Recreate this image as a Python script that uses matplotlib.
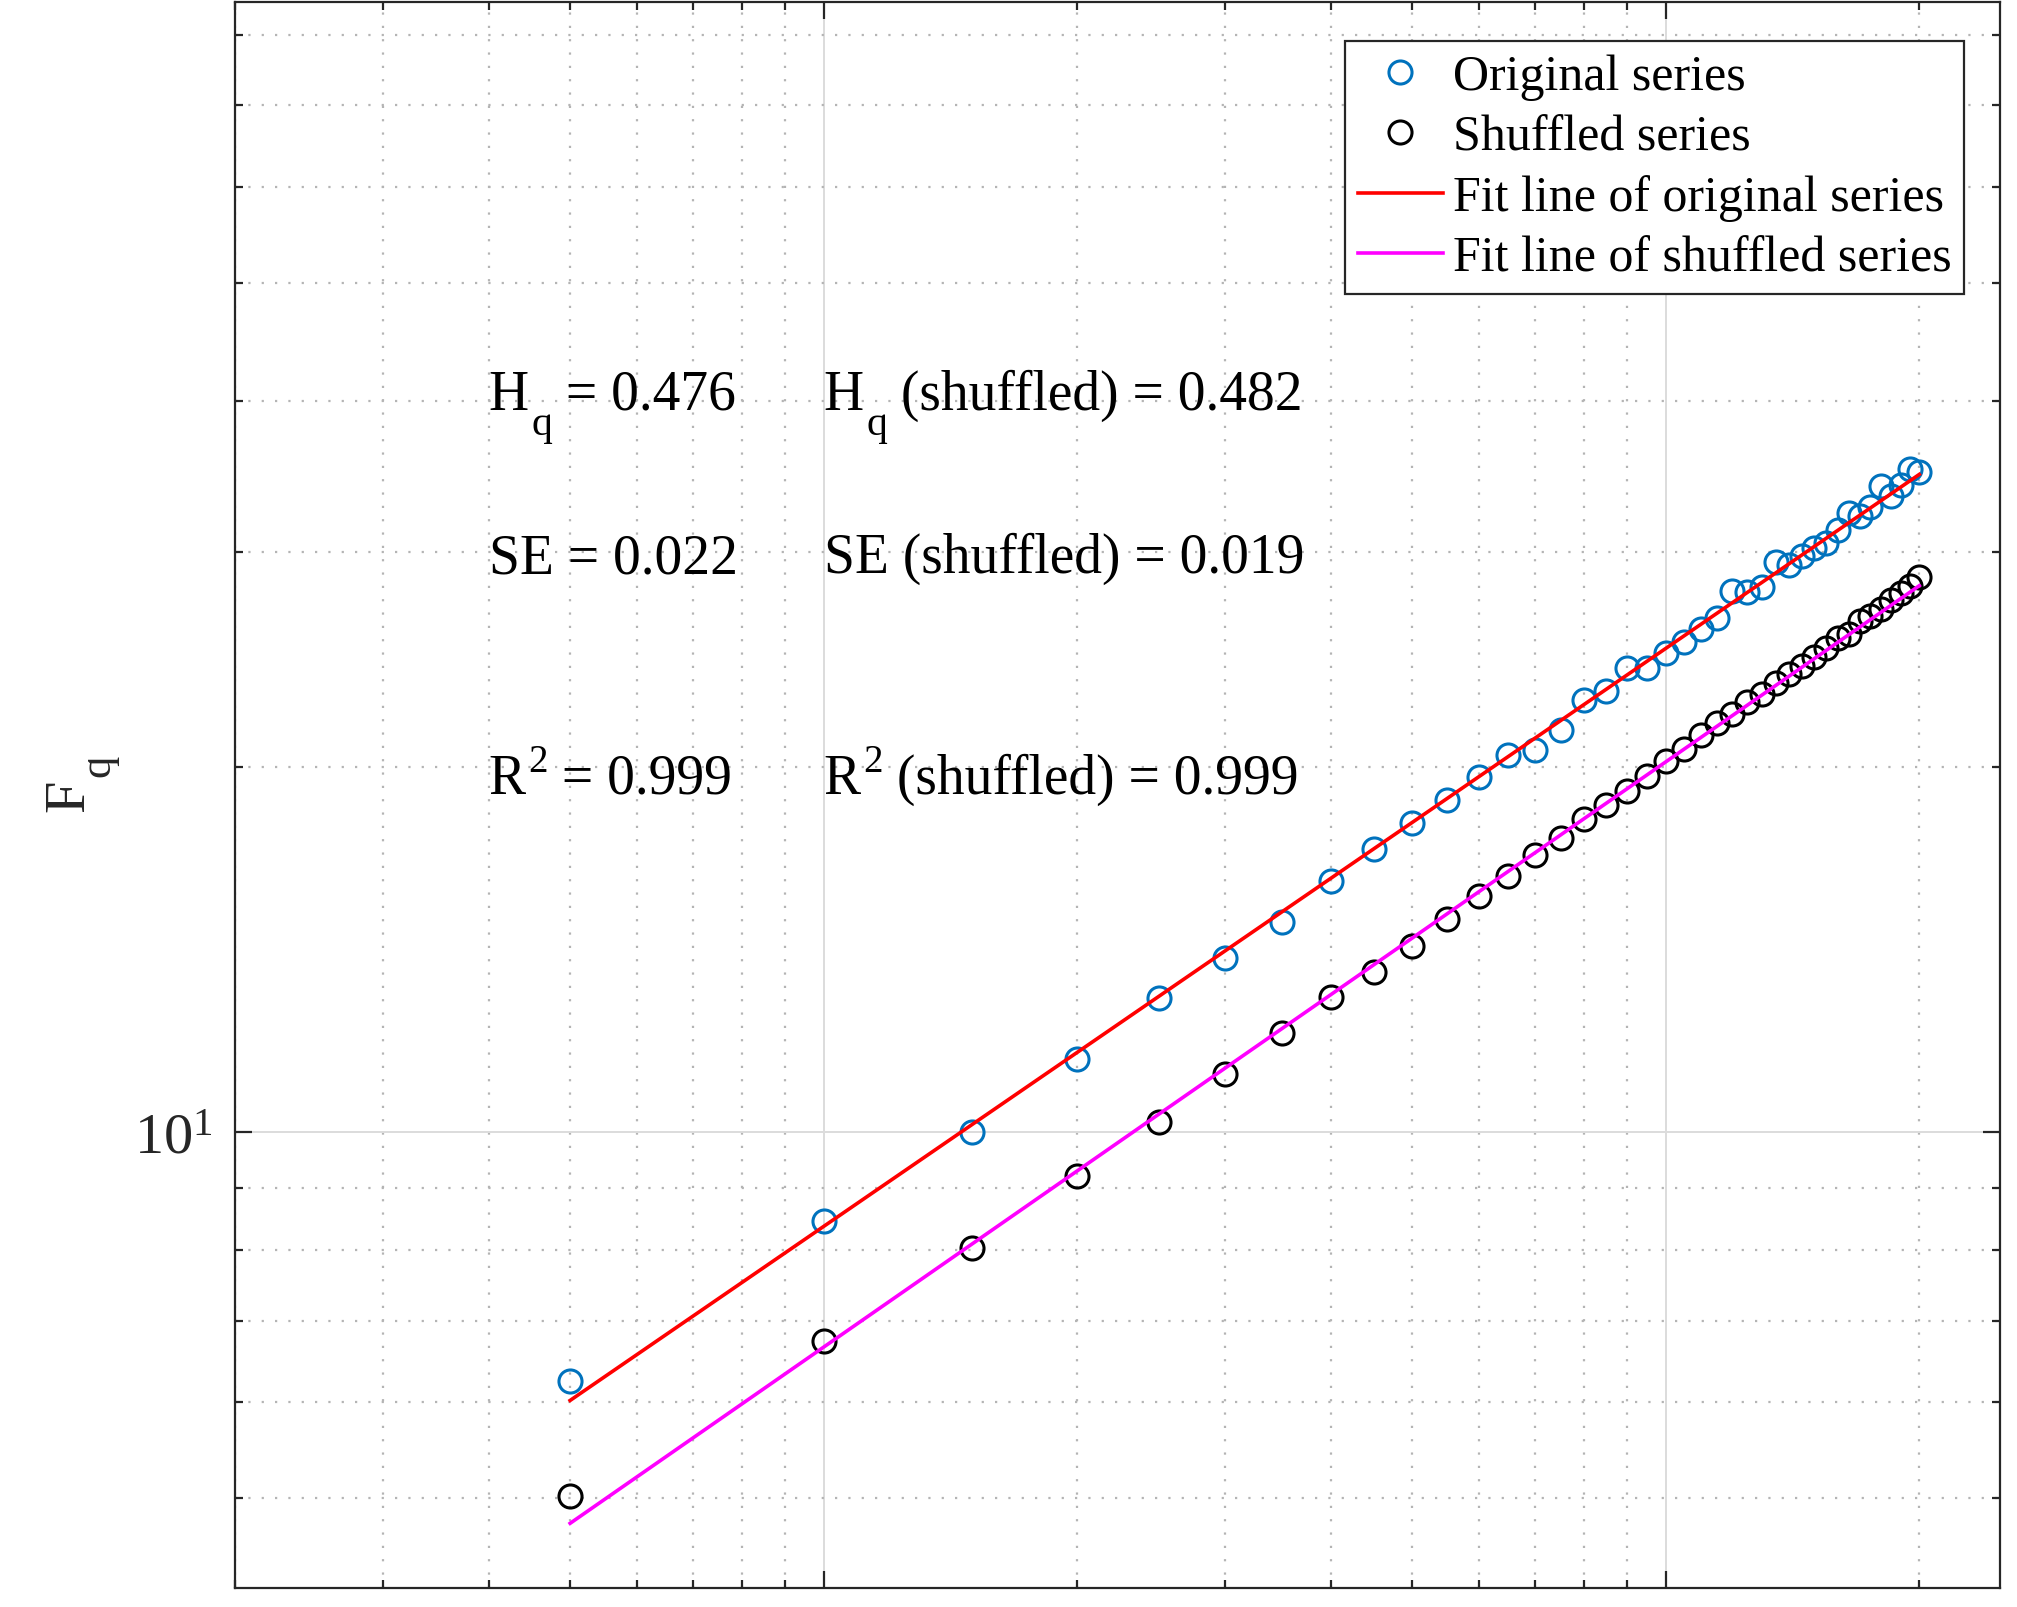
#!/usr/bin/env python3
import matplotlib
matplotlib.use('Agg')
import matplotlib.pyplot as plt
from matplotlib.ticker import NullFormatter

# Scales (window sizes) and fluctuation function values
scales = [5, 10, 15, 20, 25, 30, 35, 40, 45, 50,
          55, 60, 65, 70, 75, 80, 85, 90, 95, 100,
          105, 110, 115, 120, 125, 130, 135, 140, 145, 150,
          155, 160, 165, 170, 175, 180, 185, 190, 195, 200]

f_original = [6.24, 8.45, 10.0, 11.49, 12.90, 13.93, 14.89, 16.09, 17.11, 17.97,
              18.77, 19.61, 20.43, 20.62, 21.45, 22.69, 23.06, 24.10, 24.12, 24.81,
              25.33, 25.94, 26.51, 27.88, 27.85, 28.11, 29.45, 29.29, 29.78, 30.24,
              30.57, 31.30, 32.34, 32.16, 32.71, 34.01, 33.40, 34.12, 35.13, 34.96]

f_shuffled = [5.02, 6.74, 8.04, 9.21, 10.21, 11.17, 12.07, 12.92, 13.55, 14.24,
              14.98, 15.64, 16.26, 16.92, 17.48, 18.10, 18.60, 19.10, 19.66, 20.21,
              20.66, 21.23, 21.71, 22.08, 22.59, 22.95, 23.44, 23.82, 24.21, 24.63,
              25.05, 25.50, 25.69, 26.35, 26.61, 26.93, 27.41, 27.76, 28.17, 28.65]

# Fit line end points
fit_scales = [5, 200]
fit_original = [6.02, 34.78]
fit_shuffled = [4.77, 28.17]

# Fit statistics
hq_values = ['0.476', '0.482']
se_values = ['0.022', '0.019']
r2_values = ['0.999', '0.999']

labels = ['Original series', 'Shuffled series',
          'Fit line of original series', 'Fit line of shuffled series']


def put_scripted(ax, x, y, head, script, tail, size, script_size, dy):
    # head text, then a sub/superscript shifted by dy points (MATLAB tex look), then tail
    t = ax.text(x, y, head, fontsize=size, ha='left', va='baseline')
    s = ax.annotate(script, xy=(1, 0), xycoords=t, xytext=(1, dy),
                    textcoords='offset points', fontsize=script_size,
                    ha='left', va='baseline')
    ax.annotate(tail, xy=(1, 0), xycoords=(s, t), fontsize=size,
                ha='left', va='bottom')


def main():
    plt.rcParams['font.family'] = ['Liberation Serif', 'DejaVu Serif']
    plt.rcParams['mathtext.fontset'] = 'custom'
    plt.rcParams['mathtext.rm'] = 'Liberation Serif'
    plt.rcParams['mathtext.it'] = 'Liberation Serif:italic'
    plt.rcParams['mathtext.bf'] = 'Liberation Serif:bold'

    W, H, dpi = 2017, 1608, 200
    fig = plt.figure(figsize=(W / dpi, H / dpi), dpi=dpi)
    ax = fig.add_axes([235 / W, 1 - 1589 / H, 1765 / W, 1586 / H])

    # data and fits
    ax.plot(scales, f_original, 'o', mfc='none', mec='#0072BD', ms=8.3, mew=1.1,
            label=labels[0])
    ax.plot(scales, f_shuffled, 'o', mfc='none', mec='black', ms=8.3, mew=1.1,
            label=labels[1])
    ax.plot(fit_scales, fit_original, '-', color='#FF0000', lw=1.3, label=labels[2])
    ax.plot(fit_scales, fit_shuffled, '-', color='#FF00FF', lw=1.3, label=labels[3])

    ax.set_xscale('log')
    ax.set_yscale('log')
    ax.set_xlim(2.0, 249.4)
    ax.set_ylim(4.22, 85.1)

    # MATLAB-like grid and ticks
    ax.set_axisbelow(True)
    ax.grid(True, which='major', color='#dcdcdc', lw=0.7, ls='-')
    ax.grid(True, which='minor', color='#b4b4b4', lw=0.8, ls=(0, (1, 5)))
    ax.tick_params(which='both', direction='in', top=True, right=True,
                   color='#262626', labelcolor='#262626', labelsize=21, pad=8)
    ax.tick_params(which='major', length=6, width=0.8)
    ax.tick_params(which='minor', length=3, width=0.8)
    ax.xaxis.set_major_formatter(NullFormatter())
    ax.xaxis.set_minor_formatter(NullFormatter())
    ax.yaxis.set_minor_formatter(NullFormatter())
    for sp in ax.spines.values():
        sp.set_color('#262626')
        sp.set_linewidth(0.8)

    # y label "F" with a big, low subscript q
    ylab = ax.set_ylabel('F', fontsize=21, labelpad=14, color='#262626')
    ax.annotate('q', xy=(1, 1), xycoords=ylab, xytext=(5, 1),
                textcoords='offset points', rotation=90, rotation_mode='anchor',
                fontsize=16, ha='left', va='baseline', color='#262626')

    # statistics text: original at s=4, shuffled at s=10
    fs = 20
    put_scripted(ax, 4.0, 39.4, 'H', 'q', ' = ' + hq_values[0], fs, 15, -5)
    put_scripted(ax, 10.0, 39.4, 'H', 'q', ' (shuffled) = ' + hq_values[1], fs, 15, -5)
    ax.text(4.0, 28.9, 'SE = ' + se_values[0], fontsize=fs, va='baseline')
    ax.text(10.0, 28.9, 'SE (shuffled) = ' + se_values[1], fontsize=fs, va='baseline')
    put_scripted(ax, 4.0, 19.03, 'R', '2', ' = ' + r2_values[0], fs, 14, 12)
    put_scripted(ax, 10.0, 19.03, 'R', '2', ' (shuffled) = ' + r2_values[1], fs, 14, 12)

    leg = ax.legend(loc='upper right', bbox_to_anchor=(1964 / W, 1 - 42 / H),
                    bbox_transform=fig.transFigure, fontsize=18, frameon=True,
                    fancybox=False, edgecolor='#262626', framealpha=1,
                    handlelength=1.7, handletextpad=0.2, labelspacing=0.28,
                    borderpad=0.25, borderaxespad=0)
    leg.get_frame().set_linewidth(0.8)

    fig.savefig('out.png', dpi=dpi)
    plt.close(fig)


if __name__ == "__main__":
    main()
